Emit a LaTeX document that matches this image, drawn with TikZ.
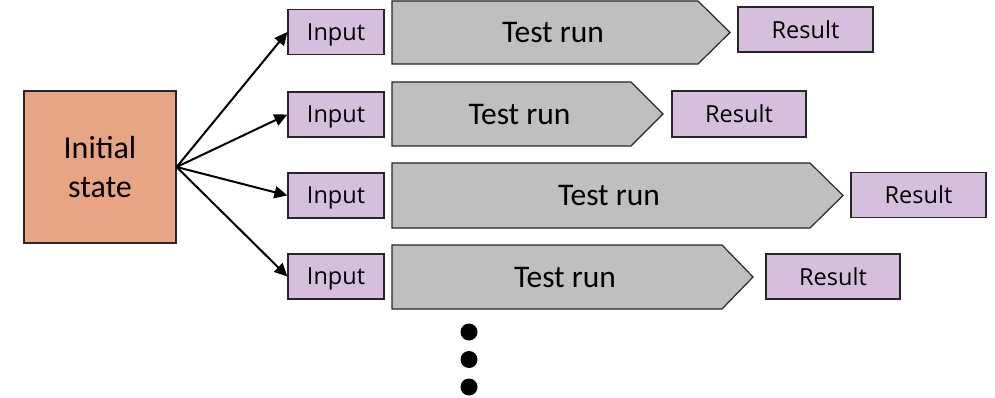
\documentclass[tikz,border=0pt]{standalone}
\usepackage{fontspec}
\setmainfont{Carlito}
\newfontfamily\iofont{Open Sans}
\usetikzlibrary{arrows.meta}
\definecolor{lav}{RGB}{213,191,220}
\definecolor{salmon}{RGB}{232,165,131}
\definecolor{rungray}{RGB}{191,191,191}
\begin{document}
\begin{tikzpicture}[x=1pt,y=-1pt,
  box/.style={draw=black!85, line width=1.2pt, inner sep=0pt},
  io/.style={box, fill=lav, minimum height=45pt, text depth=0pt, font=\iofont\fontsize{23.5}{28}\selectfont},
  inbox/.style={io, minimum width=96pt},
  resbox/.style={io, minimum width=135pt},
  run/.style={draw=black!85, line width=1.2pt, fill=rungray, line join=miter},
  runtext/.style={inner sep=0pt, font=\fontsize{31.5}{36}\selectfont},
  arr/.style={line width=2pt, -{Triangle[length=13pt,width=12pt]}}]
\useasboundingbox (0,0) rectangle (995,398);

% initial state
\node[box, fill=salmon, minimum width=152pt, minimum height=152pt, align=center,
      font=\fontsize{32}{39}\selectfont] (init) at (100,167) {Initial\\state};

% inputs
\node[inbox] (in1) at (336,32) {Input};
\node[inbox] (in2) at (336,114.5) {Input};
\node[inbox] (in3) at (336,195.5) {Input};
\node[inbox] (in4) at (336,276.5) {Input};

% test runs
\draw[run] (392,1) -- (698,1) -- (730,32.5) -- (698,64) -- (392,64) -- cycle;
\draw[run] (392,82) -- (631,82) -- (663,114) -- (631,146) -- (392,146) -- cycle;
\draw[run] (392,163) -- (810,163) -- (843,195.5) -- (810,228) -- (392,228) -- cycle;
\draw[run] (392,245) -- (722,245) -- (753,277) -- (722,309) -- (392,309) -- cycle;
\node[runtext] (run1) at (553,33) {Test run};
\node[runtext] (run2) at (519.5,115) {Test run};
\node[runtext] (run3) at (609,196) {Test run};
\node[runtext] (run4) at (565,278) {Test run};

% results
\node[resbox] (res1) at (805.5,29.5) {Result};
\node[resbox, minimum width=134pt, minimum height=46pt] (res2) at (739,114) {Result};
\node[resbox] (res3) at (918.5,195) {Result};
\node[resbox, minimum width=134pt] (res4) at (833,276.5) {Result};

% arrows
\draw[arr] (init.east) -- (in1.west);
\draw[arr] (init.east) -- (in2.west);
\draw[arr] (init.east) -- (in3.west);
\draw[arr] (init.east) -- (in4.west);

% ellipsis dots
\fill (469,332) circle (8.5);
\fill (469,359.5) circle (8.5);
\fill (469,387) circle (8.5);
\end{tikzpicture}
\end{document}
